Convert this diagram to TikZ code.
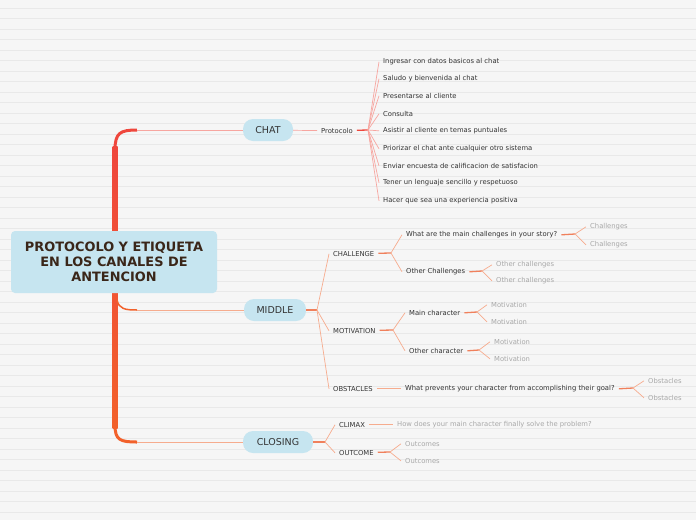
\documentclass[tikz,border=0pt]{standalone}
\usepackage{fontspec}
\setmainfont{DejaVu Sans}
\usetikzlibrary{positioning, calc}
\definecolor{paper}{HTML}{F6F6F6}
\definecolor{rule}{HTML}{E9E9E9}
\definecolor{bubble}{HTML}{C6E5F0}
\definecolor{ink}{HTML}{333333}
\definecolor{title}{HTML}{3A2619}
\definecolor{mute}{HTML}{A8A8A8}
\definecolor{hot}{HTML}{EF473D}
\definecolor{warm}{HTML}{F2612B}
\definecolor{pink}{HTML}{F7A6A0}
\definecolor{peach}{HTML}{F6AC8E}
\definecolor{coral}{HTML}{F0805C}

\begin{document}
\begin{tikzpicture}[x=1pt, y=-1pt, font=\fontsize{6.8}{8}\selectfont,
  root/.style={fill=bubble, rounded corners=4pt, minimum width=206pt, minimum height=62pt, align=center, text=title, font=\fontsize{12.9}{15}\selectfont\bfseries},
  topic/.style={fill=bubble, rounded corners=10pt, minimum height=22pt, text=ink, font=\fontsize{9.5}{11}\selectfont},
  lbl/.style={anchor=west, inner xsep=4pt, inner ysep=1pt, yshift=-0.8pt, text=ink},
  leaf/.style={anchor=west, inner xsep=4pt, inner ysep=1pt, yshift=-0.8pt, text=mute},
  rbr/.style={pink, line width=0.7pt},
  obr/.style={peach, line width=0.7pt},
  stub/.style={line width=1.3pt}
]
  \useasboundingbox (0,0) rectangle (696,520);
  \fill[paper] (0,0) rectangle (696,520);
  \foreach \i in {0,...,48}
    \draw[rule, line width=0.8pt] (0,{8+\i*10.5}) -- (696,{8+\i*10.5});

  % trunk
  \shade[top color=hot, bottom color=warm] (112.5,146) rectangle (117.5,428);
  \coordinate (cTop) at (137,130);
  \coordinate (cMid) at (137,310);
  \coordinate (cBot) at (137,442);
  \draw[line width=3pt, hot] (115,150) .. controls (115,133) and (120,130) .. (cTop);
  \draw[line width=1.5pt, warm] (117,300) .. controls (119,309) and (125,310) .. (cMid);
  \draw[line width=3pt, warm] (115,425) .. controls (115,440) and (120,442) .. (cBot);

  \node[root] (main) at (114,262) {PROTOCOLO Y ETIQUETA\\EN LOS CANALES DE\\ANTENCION};

  \node[topic, minimum width=50pt] (chat) at (268,130) {CHAT};
  \node[topic, minimum width=62pt] (mid) at (275,310) {MIDDLE};
  \node[topic, minimum width=70pt] (clos) at (278,442) {CLOSING};

  \draw[rbr] (cTop) -- (chat);
  \draw[obr] (cMid) -- (mid);
  \draw[obr] (cBot) -- (clos);

  % chat
  \node[lbl] (proto) at (317,130) {Protocolo};
  \coordinate (pf) at (368,130);
  \draw[rbr] (chat) -- (proto);
  \draw[stub, hot] (proto) -- (pf);
  \foreach \y/\t [count=\k] in {61/Ingresar con datos basicos al chat, 78/Saludo y bienvenida al chat,
      95/Presentarse al cliente, 113/Consulta, 130/Asistir al cliente en temas puntuales,
      148/Priorizar el chat ante cualquier otro sistema, 165/Enviar encuesta de calificacion de satisfacion,
      182/Tener un lenguaje sencillo y respetuoso, 200/Hacer que sea una experiencia positiva} {
    \node[lbl] (p\k) at (379,\y) {\t};
    \draw[rbr] (pf) -- (p\k.west);
  }

  % middle
  \coordinate (mf) at (317,310);
  \draw[stub, coral] (mid) -- (mf);
  \node[lbl] (chal) at (329,253) {CHALLENGE};
  \node[lbl] (moti) at (329,330) {MOTIVATION};
  \node[lbl] (obst) at (329,388) {OBSTACLES};
  \foreach \n in {chal, moti, obst}
    \draw[obr] (mf) -- (\n.west);

  \node[lbl] (q1) at (402,234) {What are the main challenges in your story?};
  \node[lbl] (q2) at (402,271) {Other Challenges};
  \coordinate (cf) at (391,253);
  \draw[stub, coral] (chal) -- (cf);
  \draw[obr] (cf) -- (q1.west);
  \draw[obr] (cf) -- (q2.west);

  \coordinate (q1f) at (575,234);
  \draw[stub, coral] (q1.east) -- (q1f);
  \node[leaf] (q1a) at (586,226) {Challenges};
  \node[leaf] (q1b) at (586,244) {Challenges};
  \coordinate (q2f) at (482,271);
  \draw[stub, coral] (q2.east) -- (q2f);
  \node[leaf] (q2a) at (492,264) {Other challenges};
  \node[leaf] (q2b) at (492,280) {Other challenges};
  \foreach \a/\b in {q1f/q1a, q1f/q1b, q2f/q2a, q2f/q2b}
    \draw[obr] (\a) -- (\b.west);

  \node[lbl] (mc) at (405,312) {Main character};
  \node[lbl] (oc) at (405,350) {Other character};
  \coordinate (mof) at (393,330);
  \draw[stub, coral] (moti) -- (mof);
  \draw[obr] (mof) -- (mc.west);
  \draw[obr] (mof) -- (oc.west);

  \coordinate (mcf) at (477,312);
  \draw[stub, coral] (mc.east) -- (mcf);
  \node[leaf] (mca) at (487,304) {Motivation};
  \node[leaf] (mcb) at (487,321) {Motivation};
  \coordinate (ocf) at (479,350);
  \draw[stub, coral] (oc.east) -- (ocf);
  \node[leaf] (oca) at (490,341) {Motivation};
  \node[leaf] (ocb) at (490,358) {Motivation};
  \foreach \a/\b in {mcf/mca, mcf/mcb, ocf/oca, ocf/ocb}
    \draw[obr] (\a) -- (\b.west);

  \node[lbl] (q3) at (401,388) {What prevents your character from accomplishing their goal?};
  \draw[obr, line width=1pt] (obst) -- (q3);
  \coordinate (q3f) at (633,388);
  \draw[stub, coral] (q3.east) -- (q3f);
  \node[leaf] (q3a) at (644,380) {Obstacles};
  \node[leaf] (q3b) at (644,397) {Obstacles};
  \draw[obr] (q3f) -- (q3a.west);
  \draw[obr] (q3f) -- (q3b.west);

  % closing
  \coordinate (clf) at (325,442);
  \draw[stub, coral] (clos) -- (clf);
  \node[lbl] (clim) at (335,424) {CLIMAX};
  \node[lbl] (outc) at (335,452) {OUTCOME};
  \draw[obr] (clf) -- (clim.west);
  \draw[obr] (clf) -- (outc.west);

  \node[leaf] (howq) at (393,424) {How does your main character finally solve the problem?};
  \draw[obr, line width=1pt] (clim) -- (howq);
  \coordinate (ouf) at (390,452);
  \draw[stub, coral] (outc) -- (ouf);
  \node[leaf] (oua) at (401,443) {Outcomes};
  \node[leaf] (oub) at (401,460) {Outcomes};
  \draw[obr] (ouf) -- (oua.west);
  \draw[obr] (ouf) -- (oub.west);
\end{tikzpicture}
\end{document}
